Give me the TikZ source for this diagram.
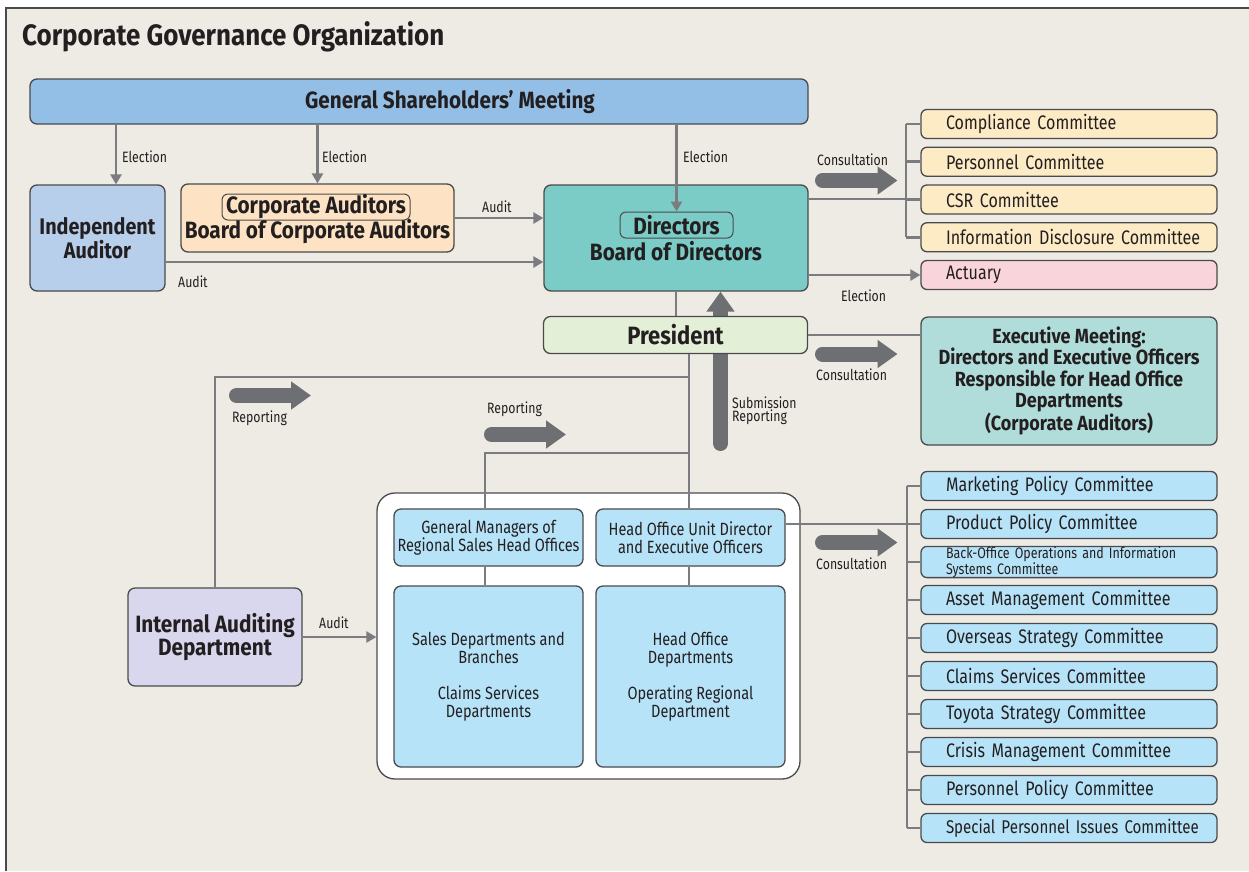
\documentclass[tikz,border=0pt]{standalone}
\usepackage{fontspec}
\setmainfont{Fira Sans}[FakeStretch=0.82, BoldFeatures={FakeStretch=0.88}]
\usetikzlibrary{arrows.meta}

\definecolor{paper}{HTML}{EEEBE5}
\definecolor{ink}{HTML}{231F20}
\definecolor{edge}{HTML}{4A4A4C}
\definecolor{wire}{HTML}{7B7C7F}
\definecolor{fat}{HTML}{6E6F73}
\definecolor{gsmblue}{HTML}{93BEE6}
\definecolor{iablue}{HTML}{B8CFEC}
\definecolor{caorange}{HTML}{FDE3C4}
\definecolor{bodteal}{HTML}{7BCBC6}
\definecolor{presgreen}{HTML}{E4EFD7}
\definecolor{comyellow}{HTML}{FDEBC5}
\definecolor{actpink}{HTML}{F9D4DA}
\definecolor{exteal}{HTML}{B0DDDA}
\definecolor{iadlilac}{HTML}{D9D7EE}
\definecolor{skyblue}{HTML}{B7E3F8}

\newcommand\fsTitle{\fontsize{29.5}{34}\selectfont\bfseries}
\newcommand\fsGsm{\fontsize{23.5}{24}\selectfont\bfseries}
\newcommand\fsIa{\fontsize{22.5}{20}\selectfont\bfseries}
\newcommand\fsHead{\fontsize{23.6}{21}\selectfont\bfseries}
\newcommand\fsPres{\fontsize{25}{25}\selectfont\bfseries}
\newcommand\fsExec{\fontsize{20.5}{21.5}\selectfont\bfseries}
\newcommand\fsBody{\fontsize{17.7}{18}\selectfont}
\newcommand\fsCom{\fontsize{19.6}{20}\selectfont}
\newcommand\fsComS{\fontsize{18.4}{20}\selectfont}
\newcommand\fsTiny{\fontsize{15.2}{13}\selectfont}
\newcommand\fsLbl{\fontsize{15}{13}\selectfont}

\begin{document}
\begin{tikzpicture}[x=1pt, y=-1pt,
  box/.style={draw=edge, line width=1.3pt, rounded corners=7pt, inner sep=0pt,
    align=center, text=ink},
  com/.style={box, rounded corners=6pt, minimum width=296pt, minimum height=29pt,
    text width=296pt, align=left, font=\fsCom, execute at begin node=\hspace*{25pt}},
  lbl/.style={anchor=base west, inner sep=0pt, text=ink, font=\fsLbl, align=left},
  line/.style={draw=wire, line width=2.6pt},
  arr/.style={line, -{Triangle[length=10pt,width=11pt]}},
  fatarr/.style={draw=fat, line width=15pt, line cap=round,
    -{Triangle[length=20pt,width=27pt]}}]

  \useasboundingbox (0,0) rectangle (1249,871);
  \fill[paper] (6,8) rectangle (1249,871);
  \draw[edge, line width=1.5pt] (6,871) -- (6,8) -- (1249,8);

  \node (title) at (22,45) [anchor=base west, inner sep=0pt, text=ink, font=\fsTitle]
    {Corporate Governance Organization};

  \node (gsm) at (419,101.5) [box, fill=gsmblue, minimum width=778pt, minimum height=45pt,
    font=\fsGsm] {\hspace*{62pt}General Shareholders' Meeting};

  \node (ia) at (97.5,238) [box, fill=iablue, minimum width=135pt, minimum height=106pt,
    font=\fsIa] {Independent\\Auditor};

  \node (ca) at (317.5,218) [box, fill=caorange, minimum width=273pt, minimum height=68pt] {};
  \node (cai) at (316,207) [box, rounded corners=6pt, line width=1pt, minimum width=188pt,
    minimum height=26pt, font=\fsHead] {Corporate Auditors};
  \node (cat) at (317.5,232) [inner sep=0pt, text=ink, font=\fsHead] {Board of Corporate Auditors};

  \node (bod) at (676,238) [box, fill=bodteal, minimum width=264pt, minimum height=106pt] {};
  \node (dir) at (676.5,225) [box, rounded corners=6pt, line width=1pt, minimum width=113pt,
    minimum height=26pt, font=\fsHead] {Directors};
  \node (bodt) at (676,251) [inner sep=0pt, text=ink, font=\fsHead] {Board of Directors};

  \draw[fatarr] (720.5,443.5) -- (720.5,0 |- bod.south);

  \node (pres) at (675.5,335) [box, fill=presgreen, minimum width=264pt, minimum height=37pt,
    font=\fsPres] {President};

  \node (exec) at (1069,381) [box, fill=exteal, minimum width=296pt, minimum height=128pt,
    font=\fsExec] {Executive Meeting:\\Directors and Executive Officers\\Responsible for Head Office\\Departments\\(Corporate Auditors)};

  \node (iad) at (215,637) [box, fill=iadlilac, minimum width=174pt, minimum height=98pt,
    font=\fsHead] {Internal Auditing\\Department};

  \node (grp) at (588.5,636) [box, fill=white, rounded corners=18pt, minimum width=423pt,
    minimum height=286pt] {};
  \node (gm) at (488.5,537.5) [box, fill=skyblue, minimum width=189pt, minimum height=57pt,
    font=\fsBody] {General Managers of\\Regional Sales Head Offices};
  \node (hou) at (690.5,537.5) [box, fill=skyblue, minimum width=189pt, minimum height=57pt,
    font=\fsBody] {Head Office Unit Director\\and Executive Officers};
  \node (sales) at (488.5,676.5) [box, fill=skyblue, minimum width=189pt, minimum height=181pt,
    font=\fsBody] {Sales Departments and\\Branches\\[18pt]Claims Services\\Departments};
  \node (hod) at (690.5,676.5) [box, fill=skyblue, minimum width=189pt, minimum height=181pt,
    font=\fsBody] {Head Office\\Departments\\[18pt]Operating Regional\\Department};

  \foreach \i/\t/\c in {1/Compliance Committee/comyellow, 2/Personnel Committee/comyellow,
    3/CSR Committee/comyellow, 4/Information Disclosure Committee/comyellow, 5/Actuary/actpink}
  {
    \pgfmathsetmacro{\y}{124+(\i-1)*37.75}
    \node (c\i) at (1069,\y) [com, fill=\c] {\t};
  }

  \foreach \i/\t in {1/Marketing Policy Committee, 2/Product Policy Committee,
    4/Asset Management Committee, 5/Overseas Strategy Committee, 6/Claims Services Committee,
    7/Toyota Strategy Committee, 8/Crisis Management Committee, 9/Personnel Policy Committee}
  {
    \pgfmathsetmacro{\y}{486+(\i-1)*38}
    \node (k\i) at (1069,\y) [com, fill=skyblue] {\t};
  }
  \node (k3) at (1069,562) [com, fill=skyblue, font=\fsTiny]
    {Back-Office Operations and Information\\\hspace*{25pt}Systems Committee};
  \node (k10) at (1069,828) [com, fill=skyblue, font=\fsComS] {Special Personnel Issues Committee};

  \coordinate (e1) at (116,124);
  \coordinate (a1) at (165,262);
  \coordinate (brU) at (906,199);
  \coordinate (brL) at (907,524);
  \coordinate (jn1) at (689,377);
  \coordinate (jn2) at (689,453);
  \coordinate (jn3) at (485,453);

  \draw[arr] (e1) -- (e1 |- ia.north);
  \draw[arr] (gsm.south -| ca.north) -- (ca.north);
  \draw[arr] (gsm.south -| dir.north) -- (dir.north);
  \draw[arr] (ca.east) -- (ca.east -| bod.west);
  \draw[arr] (ia.east |- a1) -- (bod.west |- a1);

  \draw[line] (bod.east |- brU) -- (brU);
  \draw[line] (brU |- c1) -- (brU |- c4);
  \foreach \i in {1,...,4}
    \draw[line] (brU |- c\i) -- (c\i.west);
  \draw[arr] (bod.east |- c5) -- (c5.west);

  \draw[line] (bod.south) -- (bod.south |- pres.north);
  \draw[line] (pres.east) -- (pres.east -| exec.west);
  \draw[line] (jn1 |- pres.south) -- (jn1 |- hou.north);
  \draw[line] (jn1) -| (iad.north);
  \draw[line] (jn2) -- (jn3) -- (jn3 |- gm.north);
  \draw[line] (jn3 |- gm.south) -- (jn3 |- sales.north);
  \draw[line] (jn1 |- hou.south) -- (jn1 |- hod.north);
  \draw[arr] (iad.east) -- (iad.east -| grp.west);

  \draw[line] (hou.east |- k2) -- (k2.west);
  \draw[line] (brL |- k1) -- (brL |- k10);
  \foreach \i in {1,...,10}
    \draw[line] (brL |- k\i) -- (k\i.west);

  \draw[fatarr] (822.5,180.5) -- (897.5,180.5);
  \draw[fatarr] (822.5,354) -- (897.5,354);
  \draw[fatarr] (822.5,542.5) -- (897.5,542.5);
  \draw[fatarr] (236.5,395.5) -- (311,395.5);
  \draw[fatarr] (491.5,434.5) -- (566,434.5);

  \node (l1) at (122,162) [lbl] {Election};
  \node (l2) at (322,162) [lbl] {Election};
  \node (l3) at (683,162) [lbl] {Election};
  \node (l4) at (482,212) [lbl] {Audit};
  \node (l5) at (178,287) [lbl] {Audit};
  \node (l6) at (817,165) [lbl] {Consultation};
  \node (l7) at (841,301) [lbl] {Election};
  \node (l8) at (816,380) [lbl] {Consultation};
  \node (l9) at (732,421) [lbl] {Submission\\Reporting};
  \node (l10) at (232,422) [lbl] {Reporting};
  \node (l11) at (487,413) [lbl] {Reporting};
  \node (l12) at (319,628) [lbl] {Audit};
  \node (l13) at (816,569) [lbl] {Consultation};

\end{tikzpicture}
\end{document}
